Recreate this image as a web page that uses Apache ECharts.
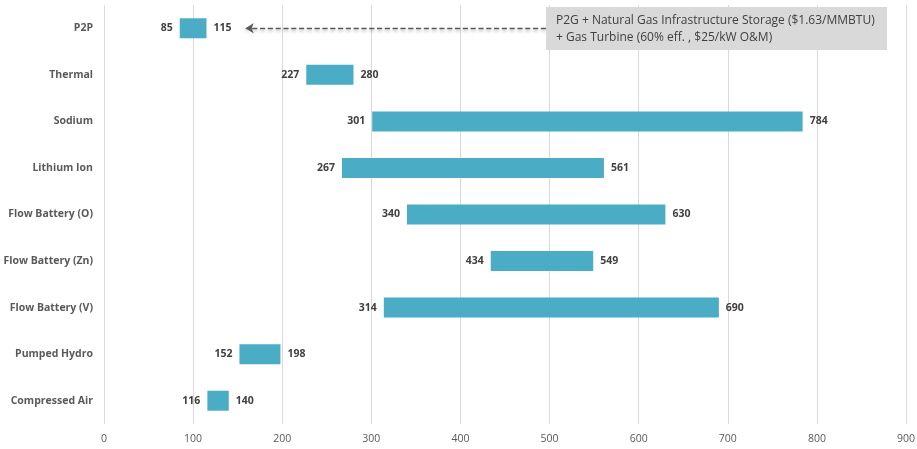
<!DOCTYPE html>
<html>
<head>
<meta charset="utf-8">
<script src="https://cdn.jsdelivr.net/npm/echarts@6/dist/echarts.min.js"></script>
<style>html,body{margin:0;padding:0;background:#fff}#c{width:917px;height:449px}</style>
</head>
<body>
<div id="c"></div>
<script>
const categories = ['P2P','Thermal','Sodium','Lithium Ion','Flow Battery (O)','Flow Battery (Zn)','Flow Battery (V)','Pumped Hydro','Compressed Air'];
const lowValues  = [85, 227, 301, 267, 340, 434, 314, 152, 116];
const highValues = [115, 280, 784, 561, 630, 549, 690, 198, 140];
const xTicks = [0, 100, 200, 300, 400, 500, 600, 700, 800, 900];
const annotationLines = ['P2G + Natural Gas Infrastructure Storage ($1.63/MMBTU)', '+ Gas Turbine (60% eff. , $25/kW O&M)'];

const cats = categories.slice().reverse();
const lows = lowValues.slice().reverse();
const highs = highValues.slice().reverse();
const spans = highs.map((h, i) => h - lows[i]);

const chart = echarts.init(document.getElementById('c'));
const font = '"Open Sans", "Noto Sans", sans-serif';
chart.setOption({
  animation: false,
  grid: { left: 104, right: 11, top: 5, bottom: 25, containLabel: false, outerBoundsMode: 'none' },
  xAxis: {
    type: 'value', min: xTicks[0], max: xTicks[xTicks.length - 1], interval: 100,
    axisLine: { show: false }, axisTick: { show: false },
    splitLine: { lineStyle: { color: '#d9d9d9', width: 1 } },
    axisLabel: { color: '#595959', fontFamily: font, fontSize: 10.5, margin: 10 }
  },
  yAxis: {
    type: 'category', data: cats,
    axisLine: { show: false }, axisTick: { show: false },
    axisLabel: { color: '#595959', fontFamily: font, fontSize: 10.5, fontWeight: 'bold', margin: 11 }
  },
  series: [
    {
      type: 'bar', stack: 'r', data: lows, barWidth: 20,
      itemStyle: { color: 'transparent' }, silent: true
    },
    {
      type: 'bar', stack: 'r', data: spans, barWidth: 20,
      itemStyle: { color: '#4BACC6' },
      label: {
        show: true, position: 'left', distance: 7,
        formatter: p => String(lows[p.dataIndex]),
        color: '#404040', fontFamily: font, fontSize: 10.5, fontWeight: 'bold'
      },
      markLine: {
        silent: true, symbol: ['none', 'arrow'], symbolSize: [8, 8],
        label: { show: false },
        lineStyle: { color: '#595959', type: 'dashed', width: 1.3, shadowColor: 'rgba(0,0,0,0.3)', shadowBlur: 3, shadowOffsetY: 2 },
        data: [[{ coord: [496, 'P2P'] }, { coord: [159, 'P2P'] }]]
      }
    },
    {
      type: 'bar', stack: 'r', data: highs.map(() => 0), barWidth: 20,
      itemStyle: { color: 'transparent' },
      label: {
        show: true, position: 'right', distance: 7,
        formatter: p => String(highs[p.dataIndex]),
        color: '#404040', fontFamily: font, fontSize: 10.5, fontWeight: 'bold'
      }
    }
  ],
  graphic: [
    {
      type: 'rect', left: 546, top: 7, shape: { width: 341, height: 43 },
      style: { fill: '#d9d9d9' }, z: 10
    },
    {
      type: 'text', left: 556, top: 12, z: 11,
      style: { text: annotationLines.join('\n'), fill: '#404040', font: '12px ' + font, lineHeight: 17 }
    }
  ]
});
</script>
</body>
</html>
